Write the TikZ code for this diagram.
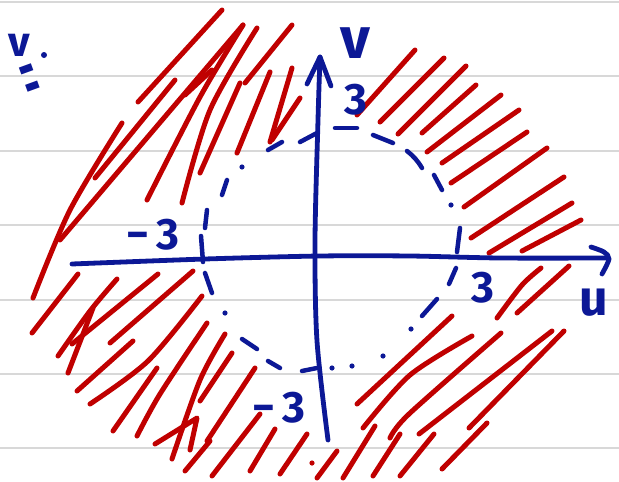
\documentclass[tikz,border=0pt]{standalone}
\usepackage{fontspec}
\setmainfont{Fira Sans}
\definecolor{hblue}{RGB}{12,24,150}
\definecolor{hred}{RGB}{192,0,0}
\definecolor{paperline}{RGB}{216,216,216}
\begin{document}
\begin{tikzpicture}[x=1pt,y=-1pt,
  paper/.style={draw=paperline, line width=1.8pt},
  hatch/.style={draw=hred, line width=5pt, line cap=round, line join=round},
  ax/.style={draw=hblue, line width=4.8pt, line cap=round, line join=round},
  cdash/.style={draw=hblue, line width=4.5pt, line cap=round},
  lab/.style={text=hblue, inner sep=0pt},
  num/.style={lab, font=\fontsize{44}{44}\selectfont\bfseries}]
\useasboundingbox (0,0) rectangle (619,482);
\fill[white] (0,0) rectangle (619,482);
% lined paper
\foreach \y in {2,76,151,225,300,374,448} \draw[paper] (0,\y) -- (619,\y);

% ---- red hatching: upper left
\draw[hatch] (138,102) -- (222,10);
\draw[hatch] (95,178) -- (175,80);
\draw[hatch] plot[smooth] coordinates {(33,298) (70,210) (122,123)};
\draw[hatch] (60,240) -- (243,25);
\draw[hatch] plot[smooth] coordinates {(147,200) (200,97) (243,25)};
\draw[hatch] plot[smooth] coordinates {(182,203) (210,110) (257,28)};
\draw[hatch] (200,173) -- (240,83);
\draw[hatch] (245,83) -- (292,25);
\draw[hatch] (237,153) -- (270,72);
\draw[hatch] (270,142) -- (292,68);
\draw[hatch] (272,140) -- (300,98);
\draw[hatch] (185,95) -- (212,70);
% ---- upper right
\draw[hatch] (357,115) -- (415,50);
\draw[hatch] (380,122) -- (440,62) -- (444,58);
\draw[hatch] (398,134) -- (462,70) -- (466,66);
\draw[hatch] (422,133) -- (476,85);
\draw[hatch] (427,152) -- (501,95);
\draw[hatch] (442,163) -- (519,110);
\draw[hatch] (451,183) -- (527,132);
\draw[hatch] (464,207) -- (547,148);
\draw[hatch] (471,238) -- (564,177);
\draw[hatch] (489,253) -- (572,203);
\draw[hatch] (522,251) -- (581,220);
% ---- lower right
\draw[hatch] plot[smooth] coordinates {(497,318) (522,285) (541,268)};
\draw[hatch] (517,313) -- (569,266);
\draw[hatch] (357,404) -- (452,316);
\draw[hatch] plot[smooth] coordinates {(363,428) (410,375) (472,336)};
\draw[hatch] plot[smooth] coordinates {(390,438) (409,414) (501,333)};
\draw[hatch] (419,434) -- (552,331);
\draw[hatch] (469,428) -- (564,331);
\draw[hatch] (442,469) -- (487,423);
\draw[hatch] (400,476) -- (434,434);
\draw[hatch] (317,478) -- (337,451);
\draw[hatch] (343,478) -- (375,426);
\draw[hatch] (373,476) -- (400,434);
\fill[hred] (312,463) circle (2.6);
% ---- lower left
\draw[hatch] (32,333) -- (78,274);
\draw[hatch] plot[smooth] coordinates {(58,356) (90,311) (117,279)};
\draw[hatch] (72,344) -- (158,274);
\draw[hatch] (110,343) -- (193,271);
\draw[hatch] (68,373) -- (93,308);
\draw[hatch] (77,391) -- (133,341);
\draw[hatch] plot[smooth] coordinates {(90,404) (148,361) (202,296)};
\draw[hatch] (113,431) -- (157,368);
\draw[hatch] plot[smooth] coordinates {(137,436) (160,394) (207,323)};
\draw[hatch] (155,444) -- (197,418) -- (190,450);
\draw[hatch] plot[smooth] coordinates {(172,459) (200,380) (225,334)};
\draw[hatch] (200,401) -- (232,353);
\draw[hatch] (185,471) -- (210,441);
\draw[hatch] (207,441) -- (255,368);
\draw[hatch] (212,476) -- (260,414);
\draw[hatch] (250,471) -- (275,429);
\draw[hatch] (280,474) -- (307,434);

% ---- dashed circle
\draw[cdash] (268,150) -- (282,142);
\draw[cdash] (300,142) -- (317,133);
\draw[cdash] (335,128) -- (357,128);
\draw[cdash] (373,135) -- (393,143);
\draw[cdash] (407,151) to[bend left=10] (422,168);
\draw[cdash] (434,175) -- (442,190);
\fill[hblue] (451,205) circle (2.6);
\draw[cdash] (460,228) -- (457,252);
\draw[cdash] (456,268) -- (449,284);
\draw[cdash] (437,299) -- (422,316);
\fill[hblue] (411,329) circle (2.6);
\fill[hblue] (383,356) circle (2.6);
\fill[hblue] (352,366) circle (2.6);
\fill[hblue] (332,368) circle (2.6);
\draw[cdash] (302,371) -- (317,368);
\draw[cdash] (268,361) -- (280,368);
\draw[cdash] (242,339) -- (257,349);
\fill[hblue] (225,313) circle (2.6);
\draw[cdash] (205,273) -- (212,293);
\draw[cdash] (201,236) -- (203,262);
\draw[cdash] (207,210) -- (205,228);
\draw[cdash] (227,180) -- (222,195);
\fill[hblue] (242,167) circle (2.6);

% ---- axes
\draw[ax] plot[smooth] coordinates {(72,264) (205,259) (320,256) (410,256) (500,258) (607,258)};
\draw[ax] plot[smooth] coordinates {(591,247) (604,252) (609,259) (602,274)};
\draw[ax] plot[smooth] coordinates {(328,440) (317,341) (315,241) (318,120) (320,57)};
\draw[ax] (307,84) -- (320,57) -- (331,86);

% ---- labels
\node[lab, font=\fontsize{58}{58}\selectfont\bfseries] (vlab) at (355,43) {v};
\node[lab, font=\fontsize{50}{50}\selectfont\bfseries] (ulab) at (594,303) {u};
\node[num] (top3) at (356,100) {3};
\node[num] (left3) at (153,235) {−\,3};
\node[num] (right3) at (483,288) {3};
\node[num] (bot3) at (279,408) {−\,3};
\node[lab, font=\fontsize{42}{42}\selectfont\bfseries] (vdef) at (19,45) {v};
\fill[hblue] (44,55) circle (3);
\begin{scope}[shift={(33,87)}, rotate=20]
  \node[lab, font=\fontsize{34}{34}\selectfont, yscale=2.8, transform shape] (eqs) at (0,0) {=};
\end{scope}
\end{tikzpicture}
\end{document}
